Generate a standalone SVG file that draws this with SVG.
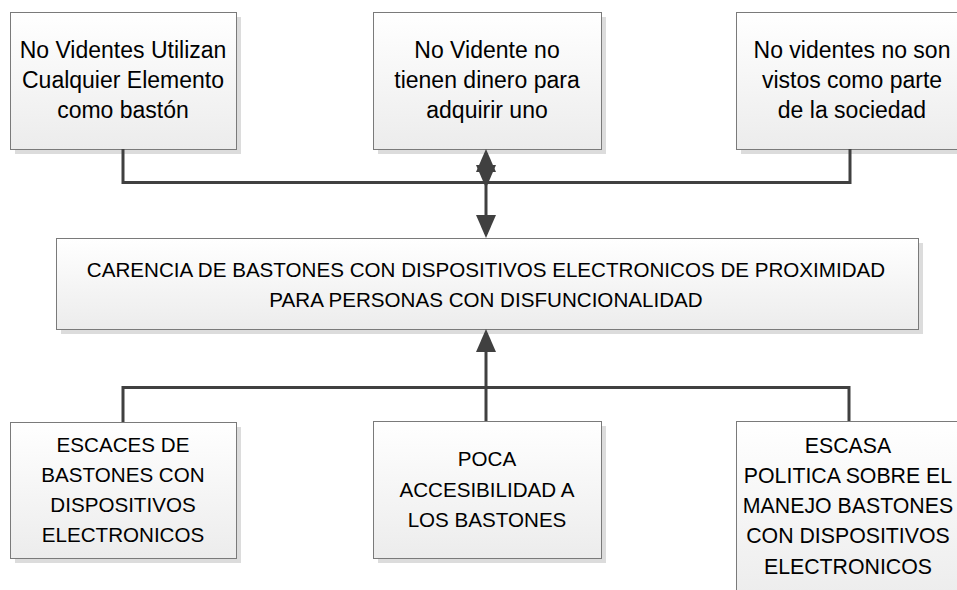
<svg xmlns="http://www.w3.org/2000/svg" width="957" height="590" viewBox="0 0 957 590">
<style>
.box{fill:url(#g);stroke:#7a7a7a;stroke-width:1}
.sh{fill:#dcdcdc}
.t{font-family:"Liberation Sans",Arial,sans-serif;fill:#000;text-anchor:middle}
.lc{font-size:23px}
.uc{font-size:20.6px}
.ub{font-size:21.3px}
.con{fill:none;stroke:#404040;stroke-width:3}
</style>
<defs>
<linearGradient id="g" x1="0" y1="0" x2="0" y2="1">
<stop offset="0" stop-color="#ffffff"/>
<stop offset="1" stop-color="#ececec"/>
</linearGradient>
<marker id="arr" markerUnits="userSpaceOnUse" markerWidth="24" markerHeight="22" refX="19" refY="10" orient="auto" overflow="visible">
<path d="M0,0 L23,10 L0,20 Z" fill="#404040"/>
</marker>
</defs>
<rect width="957" height="590" fill="#fff"/>

<g id="n1">
<rect class="sh" x="15" y="17" width="226" height="137"/>
<rect class="box" x="10.5" y="12.5" width="226" height="137"/>
<text class="t lc" x="123" y="58">No Videntes Utilizan</text>
<text class="t lc" x="123" y="88">Cualquier Elemento</text>
<text class="t lc" x="123" y="118">como bastón</text>
</g>
<g id="n2">
<rect class="sh" x="378" y="17" width="228" height="137"/>
<rect class="box" x="373.5" y="12.5" width="228" height="137"/>
<text class="t lc" x="487" y="58">No Vidente no</text>
<text class="t lc" x="487" y="88">tienen dinero para</text>
<text class="t lc" x="487" y="118">adquirir uno</text>
</g>
<g id="n3">
<rect class="sh" x="741" y="17" width="232" height="137"/>
<rect class="box" x="736.5" y="12.5" width="232" height="137"/>
<text class="t lc" x="852" y="58">No videntes no son</text>
<text class="t lc" x="852" y="88">vistos como parte</text>
<text class="t lc" x="852" y="118">de la sociedad</text>
</g>
<g id="n4">
<rect class="sh" x="61" y="243" width="862" height="91"/>
<rect class="box" x="56.5" y="238.5" width="862" height="91"/>
<text class="t uc" x="486" y="277">CARENCIA DE BASTONES CON DISPOSITIVOS ELECTRONICOS DE PROXIMIDAD</text>
<text class="t uc" x="486" y="307">PARA PERSONAS CON DISFUNCIONALIDAD</text>
</g>
<g id="n5">
<rect class="sh" x="15" y="427" width="226" height="136"/>
<rect class="box" x="10.5" y="422.5" width="226" height="136"/>
<text class="t uc" x="123" y="452">ESCACES DE</text>
<text class="t uc" x="123" y="482">BASTONES CON</text>
<text class="t uc" x="123" y="512">DISPOSITIVOS</text>
<text class="t uc" x="123" y="542">ELECTRONICOS</text>
</g>
<g id="n6">
<rect class="sh" x="378" y="426" width="228" height="137"/>
<rect class="box" x="373.5" y="421.5" width="228" height="137"/>
<text class="t uc" x="487" y="466">POCA</text>
<text class="t uc" x="487" y="497">ACCESIBILIDAD A</text>
<text class="t uc" x="487" y="527">LOS BASTONES</text>
</g>
<g id="n7">
<rect class="sh" x="741" y="426" width="226" height="180"/>
<rect class="box" x="736.5" y="421.5" width="226" height="180"/>
<text class="t ub" x="848" y="453">ESCASA</text>
<text class="t ub" x="848" y="483">POLITICA SOBRE EL</text>
<text class="t ub" x="848" y="513">MANEJO BASTONES</text>
<text class="t ub" x="848" y="543">CON DISPOSITIVOS</text>
<text class="t ub" x="848" y="574">ELECTRONICOS</text>
</g>

<g id="connectors">
<path class="con" d="M123,149 V182.5 H850 V149"/>
<path class="con" d="M486,183 V153" marker-end="url(#arr)"/>
<path class="con" d="M486,175 V184" marker-end="url(#arr)"/>
<path class="con" d="M486,183 V234" marker-end="url(#arr)"/>
<path class="con" d="M123,422 V387.5 H849 V421"/>
<path class="con" d="M486,421 V333" marker-end="url(#arr)"/>
</g>
</svg>
